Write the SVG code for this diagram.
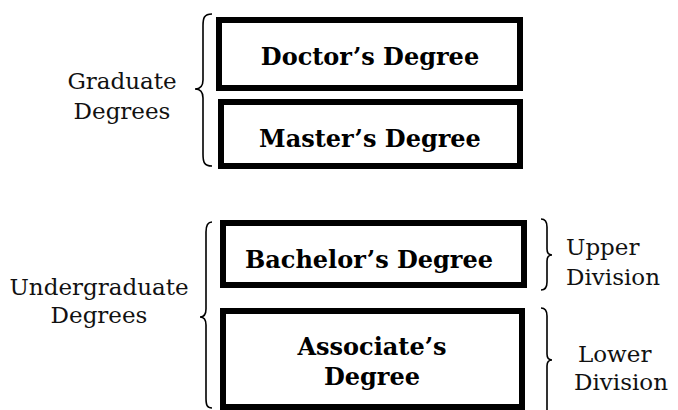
<svg xmlns="http://www.w3.org/2000/svg" width="678" height="410" viewBox="0 0 678 410">
<style>
.box{fill:#fff;stroke:#000;stroke-width:6}
.bt{font-family:"DejaVu Serif","Liberation Serif",serif;font-weight:bold;font-size:24px;fill:#000;text-anchor:middle}
.lb{font-family:"DejaVu Serif","Liberation Serif",serif;font-size:23px;fill:#111}
.br{fill:none;stroke:#000;stroke-width:1.6}
</style>
<rect width="678" height="410" fill="#fff"/>
<g id="doctor"><rect class="box" x="219" y="20" width="301" height="68"/><text class="bt" x="370" y="65">Doctor’s Degree</text></g>
<g id="master"><rect class="box" x="221" y="102" width="299" height="64"/><text class="bt" x="370" y="147">Master’s Degree</text></g>
<g id="bachelor"><rect class="box" x="223" y="223" width="301" height="62"/><text class="bt" x="369" y="268">Bachelor’s Degree</text></g>
<g id="associate"><rect class="box" x="223" y="311" width="299" height="96"/><text class="bt" x="372" y="355">Associate’s</text><text class="bt" x="372" y="385">Degree</text></g>
<g id="graduate"><path class="br" d="M212,14 C204,14 203,18 203,26 L203,80 C203,86 200,89 195,89 C200,89 203,92 203,98 L203,154 C203,162 204,166 212,166"/><text class="lb" x="122" y="89" text-anchor="middle">Graduate</text><text class="lb" x="122" y="119" text-anchor="middle">Degrees</text></g>
<g id="undergraduate"><path class="br" d="M212,222 C207,222 206,226 206,232 L206,309 C206,314 204,317 200,317 C204,317 206,320 206,325 L206,398 C206,405 207,408 212,408"/><text class="lb" x="99" y="295" text-anchor="middle">Undergraduate</text><text class="lb" x="99" y="323" text-anchor="middle">Degrees</text></g>
<g id="upper"><path class="br" d="M541,219 C545,219 547,222 547,227 L547,249 C547,253 549,255 552,255 C549,255 547,257 547,261 L547,282 C547,287 545,290 541,290"/><text class="lb" x="566" y="255">Upper</text><text class="lb" x="566" y="285">Division</text></g>
<g id="lower"><path class="br" d="M541,308 C545,308 547,311 547,316 L547,354 C547,358 549,360 552,360 C549,360 547,362 547,366 L547,412"/><text class="lb" x="578" y="362">Lower</text><text class="lb" x="574" y="390">Division</text></g>
</svg>
